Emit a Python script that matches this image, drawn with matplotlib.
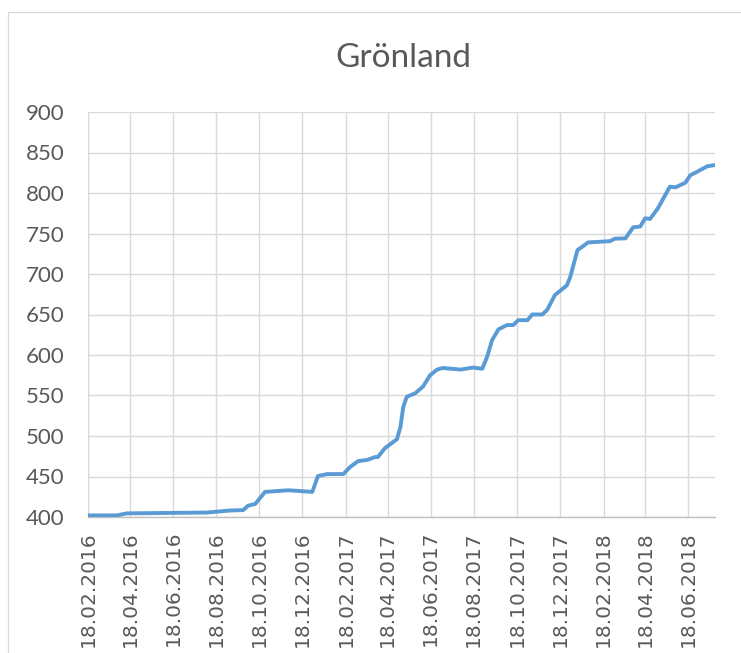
import pandas as pd
import numpy as np
import matplotlib.pyplot as plt
from matplotlib.patches import Rectangle

# values
dates = ['2016-02-18', '2016-03-30', '2016-04-13', '2016-08-05', '2016-09-06',
         '2016-09-25', '2016-10-02', '2016-10-12', '2016-10-26', '2016-11-28',
         '2017-01-01', '2017-01-09', '2017-01-22', '2017-02-14', '2017-02-24',
         '2017-03-07', '2017-03-20', '2017-03-31', '2017-04-04', '2017-04-14',
         '2017-05-01', '2017-05-06', '2017-05-10', '2017-05-15', '2017-05-27',
         '2017-06-07', '2017-06-17', '2017-06-27', '2017-07-05', '2017-07-30',
         '2017-08-17', '2017-08-30', '2017-09-06', '2017-09-13', '2017-09-22',
         '2017-10-04', '2017-10-13', '2017-10-20', '2017-11-02', '2017-11-09',
         '2017-11-23', '2017-11-30', '2017-12-11', '2017-12-28', '2018-01-02',
         '2018-01-12', '2018-01-19', '2018-01-27', '2018-02-27', '2018-03-06',
         '2018-03-21', '2018-04-01', '2018-04-11', '2018-04-18', '2018-04-25',
         '2018-05-06', '2018-05-23', '2018-05-31', '2018-06-14', '2018-06-21',
         '2018-06-28', '2018-07-15', '2018-07-26']
values = [402, 402, 404.5, 405.5, 408,
          408.5, 414, 416, 431, 433,
          431, 450.5, 453, 453, 462,
          469, 470.5, 474, 474, 485,
          496, 511, 536, 548.5, 552.7,
          561, 575, 582, 584, 582,
          584.5, 583, 598, 618.5, 631.7,
          637, 637, 643, 643, 650,
          650, 655.6, 674, 686, 697,
          729.6, 733.7, 739, 740.5, 743.6,
          744, 757.6, 758.6, 768.8, 768,
          781, 807.8, 807, 812.7, 822,
          825, 833, 834.5]

tick_dates = ['18.02.2016', '18.04.2016', '18.06.2016', '18.08.2016', '18.10.2016',
              '18.12.2016', '18.02.2017', '18.04.2017', '18.06.2017', '18.08.2017',
              '18.10.2017', '18.12.2017', '18.02.2018', '18.04.2018', '18.06.2018']
y_ticks = [400, 450, 500, 550, 600, 650, 700, 750, 800, 850, 900]

x = pd.to_datetime(dates)
ticks = pd.to_datetime(tick_dates, format='%d.%m.%Y')

plt.rcParams['font.family'] = ['Lato', 'DejaVu Sans']
txt = '#595959'
grid = '#D9D9D9'

W, H = 741, 653
fig = plt.figure(figsize=(W / 100, H / 100), dpi=100)
ax = fig.add_axes([88 / W, 1 - 517 / H, (715 - 88) / W, (517 - 112) / H])

# outer chart border (cropped on right and bottom)
fig.patches.append(Rectangle((8 / W, -0.05), 1.1, 1 - 12 / H + 0.05,
                             transform=fig.transFigure, fill=False,
                             edgecolor=grid, lw=0.9))

ax.plot(x, values, color='#5B9BD5', lw=2.8, solid_joinstyle='round',
        solid_capstyle='round', zorder=3)

ax.set_xlim(pd.Timestamp('2016-02-18'), pd.Timestamp('2018-07-26'))
ax.set_ylim(400, 900)
ax.set_yticks(y_ticks)
ax.set_xticks(ticks)
ax.set_xticklabels(tick_dates, rotation=90, fontsize=14.5, color=txt,
                   family='DejaVu Sans')
ax.set_yticklabels([str(v) for v in y_ticks], fontsize=16, color=txt)
ax.tick_params(axis='both', length=0)
ax.tick_params(axis='y', pad=17)
ax.tick_params(axis='x', pad=10)

ax.grid(True, color=grid, lw=1.0)
ax.set_axisbelow(True)
for s in ['top', 'right']:
    ax.spines[s].set_visible(False)
ax.spines['left'].set_color(grid)
ax.spines['bottom'].set_color('#BFBFBF')
ax.spines['bottom'].set_linewidth(1.0)

fig.text(403 / W, 1 - 58 / H, 'Grönland', fontsize=24, color=txt,
         ha='center', va='center')

fig.savefig('out.png', dpi=100)
